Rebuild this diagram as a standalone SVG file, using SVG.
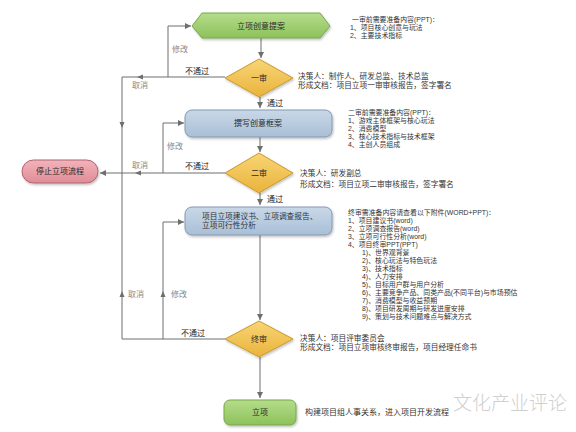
<svg xmlns="http://www.w3.org/2000/svg" width="576" height="432" viewBox="0 0 576 432">
<defs>
<linearGradient id="gGreen" x1="0" y1="0" x2="0" y2="1"><stop offset="0" stop-color="#b5dd8a"/><stop offset="1" stop-color="#8dc15c"/></linearGradient>
<linearGradient id="gBlue" x1="0" y1="0" x2="0" y2="1"><stop offset="0" stop-color="#c9d8e8"/><stop offset="1" stop-color="#a9bfd6"/></linearGradient>
<linearGradient id="gYellow" x1="0" y1="0" x2="0" y2="1"><stop offset="0" stop-color="#f8d575"/><stop offset="1" stop-color="#eab33c"/></linearGradient>
<linearGradient id="gPink" x1="0" y1="0" x2="0" y2="1"><stop offset="0" stop-color="#f2b3ba"/><stop offset="1" stop-color="#e08d98"/></linearGradient>
<filter id="sh" x="-20%" y="-20%" width="140%" height="150%"><feDropShadow dx="1" dy="1.5" stdDeviation="1" flood-color="#000" flood-opacity="0.25"/></filter>
<marker id="ah" viewBox="0 0 10 10" refX="10" refY="5" markerWidth="6" markerHeight="6" orient="auto" markerUnits="userSpaceOnUse"><path d="M0,0 L10,5 L0,10 Z" fill="#6e6e6e"/></marker>
<path id="tri" d="M-3,-2.5 L3,0 L-3,2.5 Z" fill="#6e6e6e"/>
</defs>
<style>
text{font-family:"Noto Sans CJK SC","Liberation Sans",sans-serif;font-size:8px;fill:#333}
.li{font-family:"Liberation Sans","Noto Sans CJK SC",sans-serif;font-size:6.9px}
.dc{font-family:"Liberation Sans","Noto Sans CJK SC",sans-serif;font-size:7.7px}
.nt{text-anchor:middle;fill:#2a2a2a}
.lbl{fill:#222}
.lg{fill:#888}
.ln{fill:none;stroke:#6e6e6e;stroke-width:1}
.wm{font-size:19px;fill:#cfcfcf;font-weight:300}
</style>
<rect width="576" height="432" fill="#fff"/>

<g id="connectors">
<path class="ln" d="M261,38 V58" marker-end="url(#ah)"/>
<path class="ln" d="M260,97 V108" marker-end="url(#ah)"/>
<path class="ln" d="M260,137 V152" marker-end="url(#ah)"/>
<path class="ln" d="M260,193 V205" marker-end="url(#ah)"/>
<path class="ln" d="M260,235 V320" marker-end="url(#ah)"/>
<path class="ln" d="M260,357 V398" marker-end="url(#ah)"/>
<path class="ln" d="M225,77 H122 V339 H225"/>
<path class="ln" d="M168,77 V26 H191" marker-end="url(#ah)"/>
<path class="ln" d="M225,173 H100" marker-end="url(#ah)"/>
<path class="ln" d="M163,173 V123 H184" marker-end="url(#ah)"/>
<path class="ln" d="M163,339 V222 H184" marker-end="url(#ah)"/>
<use href="#tri" transform="translate(140,77) rotate(180)"/>
<use href="#tri" transform="translate(122,125) rotate(90)"/>
<use href="#tri" transform="translate(138,173) rotate(180)"/>
<use href="#tri" transform="translate(122,294) rotate(-90)"/>
<use href="#tri" transform="translate(163,294) rotate(-90)"/>
<text class="lbl" x="185" y="74">不通过</text>
<text class="lg" x="172" y="52">修改</text>
<text class="lg" x="132" y="88">取消</text>
<text class="lbl" x="267" y="106">通过</text>
<text class="lbl" x="185" y="169">不通过</text>
<text class="lg" x="167" y="149">修改</text>
<text class="lg" x="132" y="168">取消</text>
<text class="lbl" x="267" y="202">通过</text>
<text class="lbl" x="181" y="336">不通过</text>
<text class="lg" x="128" y="297">取消</text>
<text class="lg" x="171" y="297">修改</text>
</g>

<g id="n-proposal">
<polygon points="192,26 202,13 320,13 330,26 320,38 202,38" fill="url(#gGreen)" stroke="#76a84a" stroke-width="1" stroke-linejoin="round" filter="url(#sh)"/>
<text class="nt" x="261" y="29">立项创意提案</text>
</g>
<g id="n-review1">
<polygon points="225,78 259,59 293,78 259,97" fill="url(#gYellow)" stroke="#c99a2c" stroke-width="1" stroke-linejoin="round" filter="url(#sh)"/>
<text class="nt" x="259" y="81">一审</text>
</g>
<g id="n-draft">
<rect x="185" y="110" width="147" height="27" rx="7" fill="url(#gBlue)" stroke="#8299b2" stroke-width="1" filter="url(#sh)"/>
<text class="nt" x="258" y="126">撰写创意框案</text>
</g>
<g id="n-review2">
<polygon points="225,173 259,153 293,173 259,193" fill="url(#gYellow)" stroke="#c99a2c" stroke-width="1" stroke-linejoin="round" filter="url(#sh)"/>
<text class="nt" x="259" y="176">二审</text>
</g>
<g id="n-docs">
<rect x="185" y="207" width="147" height="28" rx="7" fill="url(#gBlue)" stroke="#8299b2" stroke-width="1" filter="url(#sh)"/>
<text class="dc" x="202" y="219" fill="#2a2a2a">项目立项建议书、立项调查报告、</text>
<text class="dc" x="202" y="228" fill="#2a2a2a">立项可行性分析</text>
</g>
<g id="n-final">
<polygon points="225,339 259,321 293,339 259,357" fill="url(#gYellow)" stroke="#c99a2c" stroke-width="1" stroke-linejoin="round" filter="url(#sh)"/>
<text class="nt" x="259" y="342">终审</text>
</g>
<g id="n-approved">
<rect x="224" y="400" width="72" height="25" rx="6" fill="url(#gGreen)" stroke="#76a84a" stroke-width="1" filter="url(#sh)"/>
<text class="nt" x="260" y="415">立项</text>
</g>
<g id="n-stop">
<rect x="22" y="160" width="76" height="23" rx="11.5" fill="url(#gPink)" stroke="#b0636f" stroke-width="1" filter="url(#sh)"/>
<text class="nt" x="60" y="174">停止立项流程</text>
</g>

<g id="notes">
<text class="li" x="352" y="22">一审前需要准备内容(PPT)：</text>
<text class="li" x="350" y="30">1、项目核心创意与玩法</text>
<text class="li" x="350" y="38">2、主要技术指标</text>
<text class="dc" x="298" y="79">决策人：制作人、研发总监、技术总监</text>
<text class="dc" x="298" y="88">形成文档：项目立项一审审核报告，签字署名</text>
<text class="li" x="348" y="115">二审前需要准备内容(PPT)：</text>
<text class="li" x="348" y="123">1、游戏主体框架与核心玩法</text>
<text class="li" x="348" y="131">2、消费模型</text>
<text class="li" x="348" y="139">3、核心技术指标与技术框架</text>
<text class="li" x="348" y="147">4、主创人员组成</text>
<text class="dc" x="300" y="176">决策人：研发副总</text>
<text class="dc" x="300" y="187">形成文档：项目立项二审审核报告，签字署名</text>
<text class="li" x="348" y="215">终审需准备内容请查看以下附件(WORD+PPT)：</text>
<text class="li" x="348" y="223">1、项目建议书(word)</text>
<text class="li" x="348" y="231">2、立项调查报告(word)</text>
<text class="li" x="348" y="239">3、立项可行性分析(word)</text>
<text class="li" x="348" y="247">4、项目终审PPT(PPT)</text>
<text class="li" x="362" y="255">1)、世界观背景</text>
<text class="li" x="362" y="263">2)、核心玩法与特色玩法</text>
<text class="li" x="362" y="271">3)、技术指标</text>
<text class="li" x="362" y="279">4)、人力安排</text>
<text class="li" x="362" y="287">5)、目标用户群与用户分析</text>
<text class="li" x="362" y="295">6)、主要竞争产品、同类产品(不同平台)与市场预估</text>
<text class="li" x="362" y="303">7)、消费模型与收益预期</text>
<text class="li" x="362" y="311">8)、项目研发周期与研发进度安排</text>
<text class="li" x="362" y="319">9)、策划与技术问题难点与解决方式</text>
<text class="dc" x="300" y="341">决策人：项目评审委员会</text>
<text class="dc" x="300" y="350">形成文档：项目立项审核终审报告，项目经理任命书</text>
<text x="305" y="415">构建项目组人事关系，进入项目开发流程</text>
<text class="wm" x="453" y="410">文化产业评论</text>
</g>
</svg>
